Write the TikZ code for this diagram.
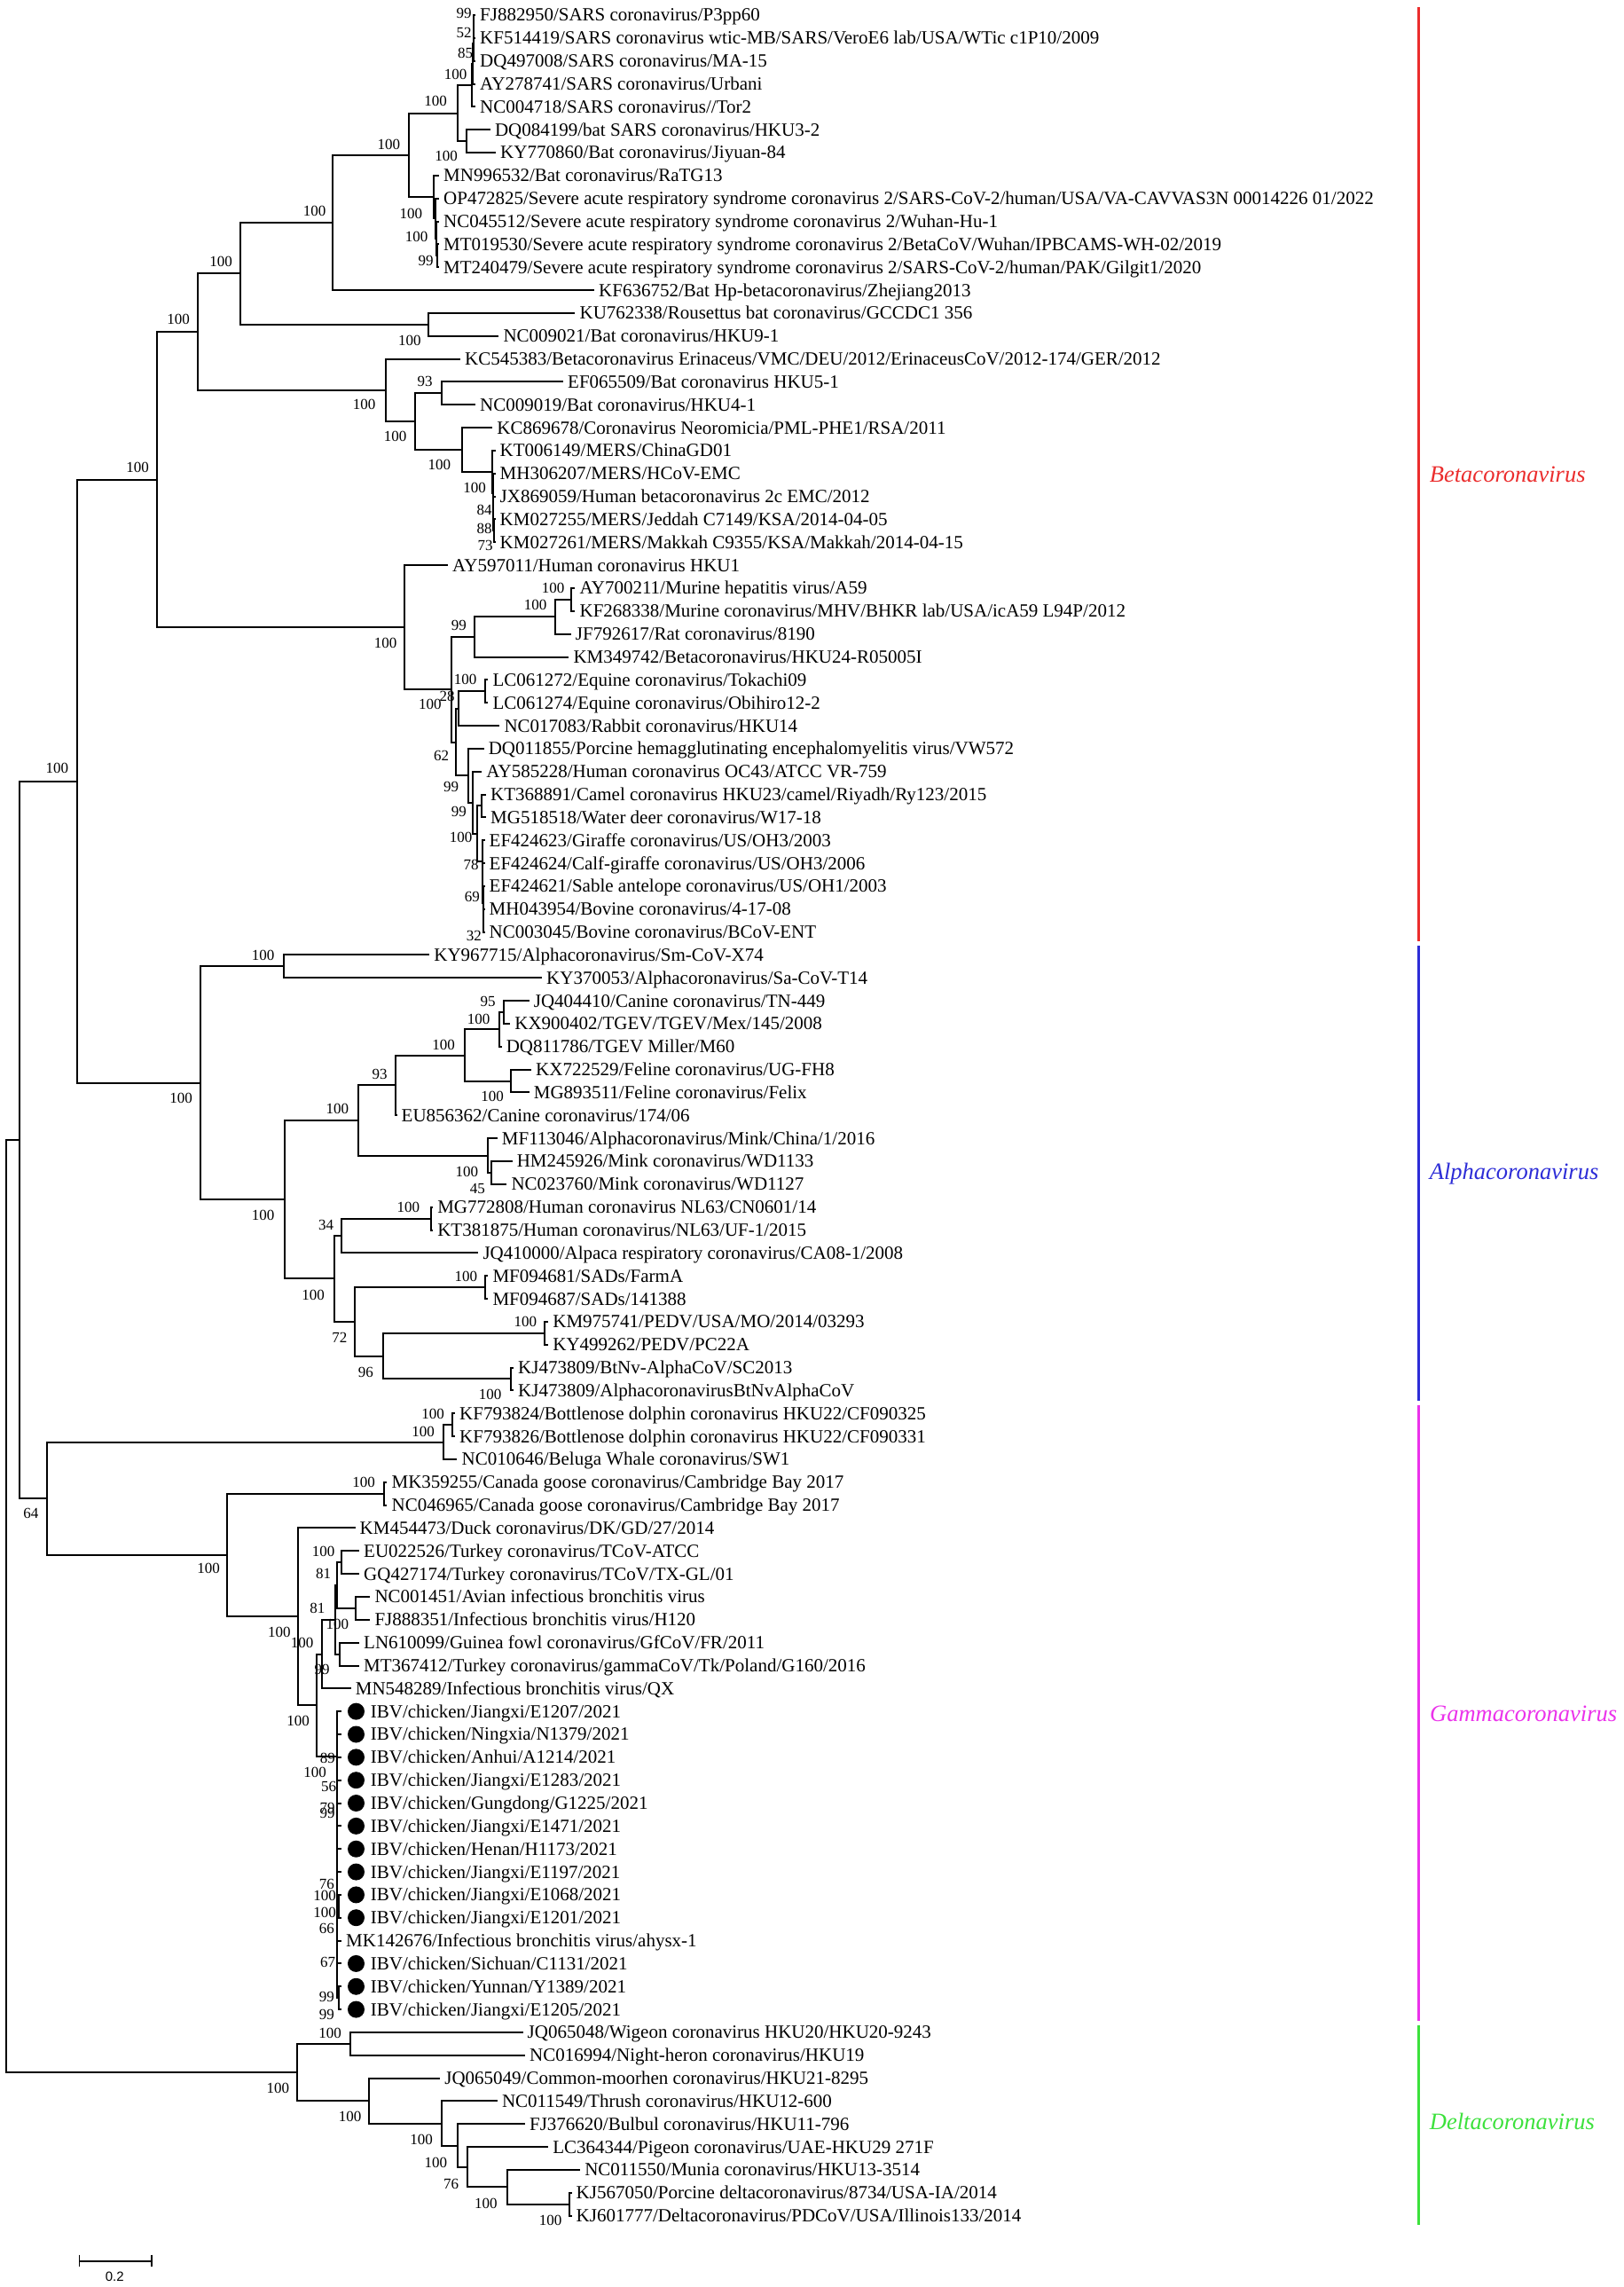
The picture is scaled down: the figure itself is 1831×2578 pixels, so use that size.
\documentclass[tikz,border=0pt]{standalone}
\usepackage{fontspec}
\setmainfont{Liberation Serif}
\newfontfamily\sansf{Liberation Sans}
\usetikzlibrary{calc}
\definecolor{betac}{RGB}{235,45,45}
\definecolor{alphac}{RGB}{45,45,215}
\definecolor{gammac}{RGB}{235,50,235}
\definecolor{deltac}{RGB}{60,225,60}
\newcounter{bsc}
\newcommand\bs[3]{\stepcounter{bsc}\node[boot] (bs\arabic{bsc}) at (#1,#2) {#3};}
\newcommand\lf[3]{%
  \pgfmathsetmacro\leafy{17+(#1-1)*25.84}%
  \coordinate (l#1) at (#2,\leafy);
  \node[lab] (t#1) at (l#1) {#3};}
\newcommand\ibv[2]{%
  \pgfmathsetmacro\leafy{17+(#1-1)*25.84}%
  \coordinate (l#1) at (384,\leafy);
  \node[dotm] (d#1) at (401.5,\leafy) {};
  \node[lab, inner xsep=0pt] (t#1) at (417.7,\leafy) {#2};}
\newcommand\nd[4]{%
  \path let \p1=(#3),\p2=(#4) in coordinate (#1) at (#2pt,{0.5*\y1+0.5*\y2});
  \draw[br] (#1) |- (#3);
  \draw[br] (#1) |- (#4);}
\begin{document}
\begin{tikzpicture}[x=1pt,y=-1pt,
  br/.style={line width=2pt, line cap=rect, black},
  lab/.style={anchor=west, inner xsep=6pt, inner ysep=0pt, font=\fontsize{21}{24}\selectfont, text height=13.9pt, text depth=0pt},
  boot/.style={inner sep=0pt, font=\fontsize{17}{19}\selectfont, text height=11.4pt, text depth=0pt},
  dotm/.style={circle, fill=black, minimum size=19pt, inner sep=0pt},
  cbar/.style={line width=2.5pt},
  clade/.style={anchor=west, inner sep=0pt, font=\fontsize{26.5}{30}\selectfont\itshape, text height=17.5pt, text depth=0pt}]
\useasboundingbox[fill=white] (0,0) rectangle (1831,2578);
% ---------------- leaves
\lf{1}{535}{FJ882950/SARS coronavirus/P3pp60}
\lf{2}{535}{KF514419/SARS coronavirus wtic-MB/SARS/VeroE6 lab/USA/WTic c1P10/2009}
\lf{3}{535}{DQ497008/SARS coronavirus/MA-15}
\lf{4}{535}{AY278741/SARS coronavirus/Urbani}
\lf{5}{535}{NC004718/SARS coronavirus//Tor2}
\lf{6}{551.8}{DQ084199/bat SARS coronavirus/HKU3-2}
\lf{7}{558}{KY770860/Bat coronavirus/Jiyuan-84}
\lf{8}{494}{MN996532/Bat coronavirus/RaTG13}
\lf{9}{494}{OP472825/Severe acute respiratory syndrome coronavirus 2/SARS-CoV-2/human/USA/VA-CAVVAS3N 00014226 01/2022}
\lf{10}{494}{NC045512/Severe acute respiratory syndrome coronavirus 2/Wuhan-Hu-1}
\lf{11}{494}{MT019530/Severe acute respiratory syndrome coronavirus 2/BetaCoV/Wuhan/IPBCAMS-WH-02/2019}
\lf{12}{494}{MT240479/Severe acute respiratory syndrome coronavirus 2/SARS-CoV-2/human/PAK/Gilgit1/2020}
\lf{13}{669}{KF636752/Bat Hp-betacoronavirus/Zhejiang2013}
\lf{14}{647.4}{KU762338/Rousettus bat coronavirus/GCCDC1 356}
\lf{15}{561.3}{NC009021/Bat coronavirus/HKU9-1}
\lf{16}{518}{KC545383/Betacoronavirus Erinaceus/VMC/DEU/2012/ErinaceusCoV/2012-174/GER/2012}
\lf{17}{634}{EF065509/Bat coronavirus HKU5-1}
\lf{18}{535}{NC009019/Bat coronavirus/HKU4-1}
\lf{19}{554.2}{KC869678/Coronavirus Neoromicia/PML-PHE1/RSA/2011}
\lf{20}{557.5}{KT006149/MERS/ChinaGD01}
\lf{21}{557.5}{MH306207/MERS/HCoV-EMC}
\lf{22}{557.5}{JX869059/Human betacoronavirus 2c EMC/2012}
\lf{23}{557.5}{KM027255/MERS/Jeddah C7149/KSA/2014-04-05}
\lf{24}{557.5}{KM027261/MERS/Makkah C9355/KSA/Makkah/2014-04-15}
\lf{25}{504}{AY597011/Human coronavirus HKU1}
\lf{26}{647.4}{AY700211/Murine hepatitis virus/A59}
\lf{27}{647.4}{KF268338/Murine coronavirus/MHV/BHKR lab/USA/icA59 L94P/2012}
\lf{28}{642.7}{JF792617/Rat coronavirus/8190}
\lf{29}{640.3}{KM349742/Betacoronavirus/HKU24-R05005I}
\lf{30}{549.4}{LC061272/Equine coronavirus/Tokachi09}
\lf{31}{549.4}{LC061274/Equine coronavirus/Obihiro12-2}
\lf{32}{562.3}{NC017083/Rabbit coronavirus/HKU14}
\lf{33}{544.6}{DQ011855/Porcine hemagglutinating encephalomyelitis virus/VW572}
\lf{34}{542.2}{AY585228/Human coronavirus OC43/ATCC VR-759}
\lf{35}{547}{KT368891/Camel coronavirus HKU23/camel/Riyadh/Ry123/2015}
\lf{36}{547}{MG518518/Water deer coronavirus/W17-18}
\lf{37}{545.5}{EF424623/Giraffe coronavirus/US/OH3/2003}
\lf{38}{545.5}{EF424624/Calf-giraffe coronavirus/US/OH3/2006}
\lf{39}{545.5}{EF424621/Sable antelope coronavirus/US/OH1/2003}
\lf{40}{545.5}{MH043954/Bovine coronavirus/4-17-08}
\lf{41}{545.5}{NC003045/Bovine coronavirus/BCoV-ENT}
\lf{42}{483.2}{KY967715/Alphacoronavirus/Sm-CoV-X74}
\lf{43}{610}{KY370053/Alphacoronavirus/Sa-CoV-T14}
\lf{44}{595.7}{JQ404410/Canine coronavirus/TN-449}
\lf{45}{574.2}{KX900402/TGEV/TGEV/Mex/145/2008}
\lf{46}{564.6}{DQ811786/TGEV Miller/M60}
\lf{47}{598}{KX722529/Feline coronavirus/UG-FH8}
\lf{48}{595.7}{MG893511/Feline coronavirus/Felix}
\lf{49}{446.5}{EU856362/Canine coronavirus/174/06}
\lf{50}{559.7}{MF113046/Alphacoronavirus/Mink/China/1/2016}
\lf{51}{576.6}{HM245926/Mink coronavirus/WD1133}
\lf{52}{570.3}{NC023760/Mink coronavirus/WD1127}
\lf{53}{487.1}{MG772808/Human coronavirus NL63/CN0601/14}
\lf{54}{487.1}{KT381875/Human coronavirus/NL63/UF-1/2015}
\lf{55}{538.3}{JQ410000/Alpaca respiratory coronavirus/CA08-1/2008}
\lf{56}{549.3}{MF094681/SADs/FarmA}
\lf{57}{549.3}{MF094687/SADs/141388}
\lf{58}{617.2}{KM975741/PEDV/USA/MO/2014/03293}
\lf{59}{617.2}{KY499262/PEDV/PC22A}
\lf{60}{578}{KJ473809/BtNv-AlphaCoV/SC2013}
\lf{61}{578}{KJ473809/AlphacoronavirusBtNvAlphaCoV}
\lf{62}{512}{KF793824/Bottlenose dolphin coronavirus HKU22/CF090325}
\lf{63}{512}{KF793826/Bottlenose dolphin coronavirus HKU22/CF090331}
\lf{64}{514.4}{NC010646/Beluga Whale coronavirus/SW1}
\lf{65}{435.4}{MK359255/Canada goose coronavirus/Cambridge Bay 2017}
\lf{66}{435.4}{NC046965/Canada goose coronavirus/Cambridge Bay 2017}
\lf{67}{399.5}{KM454473/Duck coronavirus/DK/GD/27/2014}
\lf{68}{404}{EU022526/Turkey coronavirus/TCoV-ATCC}
\lf{69}{404}{GQ427174/Turkey coronavirus/TCoV/TX-GL/01}
\lf{70}{416.3}{NC001451/Avian infectious bronchitis virus}
\lf{71}{416.3}{FJ888351/Infectious bronchitis virus/H120}
\lf{72}{404}{LN610099/Guinea fowl coronavirus/GfCoV/FR/2011}
\lf{73}{404}{MT367412/Turkey coronavirus/gammaCoV/Tk/Poland/G160/2016}
\lf{74}{394.7}{MN548289/Infectious bronchitis virus/QX}
\ibv{75}{IBV/chicken/Jiangxi/E1207/2021}
\ibv{76}{IBV/chicken/Ningxia/N1379/2021}
\ibv{77}{IBV/chicken/Anhui/A1214/2021}
\ibv{78}{IBV/chicken/Jiangxi/E1283/2021}
\ibv{79}{IBV/chicken/Gungdong/G1225/2021}
\ibv{80}{IBV/chicken/Jiangxi/E1471/2021}
\ibv{81}{IBV/chicken/Henan/H1173/2021}
\ibv{82}{IBV/chicken/Jiangxi/E1197/2021}
\ibv{83}{IBV/chicken/Jiangxi/E1068/2021}
\ibv{84}{IBV/chicken/Jiangxi/E1201/2021}
\lf{85}{384}{MK142676/Infectious bronchitis virus/ahysx-1}
\ibv{86}{IBV/chicken/Sichuan/C1131/2021}
\ibv{87}{IBV/chicken/Yunnan/Y1389/2021}
\ibv{88}{IBV/chicken/Jiangxi/E1205/2021}
\lf{89}{588.5}{JQ065048/Wigeon coronavirus HKU20/HKU20-9243}
\lf{90}{590.9}{NC016994/Night-heron coronavirus/HKU19}
\lf{91}{495.2}{JQ065049/Common-moorhen coronavirus/HKU21-8295}
\lf{92}{559.8}{NC011549/Thrush coronavirus/HKU12-600}
\lf{93}{590.9}{FJ376620/Bulbul coronavirus/HKU11-796}
\lf{94}{617.2}{LC364344/Pigeon coronavirus/UAE-HKU29 271F}
\lf{95}{653.1}{NC011550/Munia coronavirus/HKU13-3514}
\lf{96}{643.5}{KJ567050/Porcine deltacoronavirus/8734/USA-IA/2014}
\lf{97}{643.5}{KJ601777/Deltacoronavirus/PDCoV/USA/Illinois133/2014}
% ---------------- Betacoronavirus
\nd{S1}{534.2}{l1}{l2}
\nd{S2}{533.6}{S1}{l3}
\nd{S3}{532.8}{S2}{l4}
\nd{S4}{531.8}{S3}{l5}
\nd{A2}{525.5}{l6}{l7}
\nd{A}{515.9}{S4}{A2}
\nd{C3}{492.8}{l11}{l12}
\nd{C2}{492.0}{l10}{C3}
\nd{C1}{491.0}{l9}{C2}
\nd{C}{488.6}{l8}{C1}
\nd{B}{460.9}{A}{C}
\nd{D}{374.8}{B}{l13}
\nd{F}{483.4}{l14}{l15}
\nd{E}{270.5}{D}{F}
\nd{J}{498.2}{l17}{l18}
\nd{L3}{556.5}{l23}{l24}
\nd{L2}{556.0}{l22}{L3}
\nd{L1}{555.5}{l21}{L2}
\nd{L}{555.0}{l20}{L1}
\nd{K}{520.7}{l19}{L}
\nd{I}{468.1}{J}{K}
\nd{H}{434.6}{l16}{I}
\nd{G}{222.7}{E}{H}
\nd{S}{644.1}{l26}{l27}
\nd{R}{625.9}{S}{l28}
\nd{P}{535.0}{R}{l29}
\nd{T}{547.0}{l30}{l31}
\nd{U}{517.3}{T}{l32}
\nd{Z1}{543.2}{l35}{l36}
\nd{Z2c}{544.9}{l40}{l41}
\nd{Z2b}{544.6}{l39}{Z2c}
\nd{Z2a}{544.3}{l38}{Z2b}
\nd{Z2}{544.0}{l37}{Z2a}
\nd{Y}{538.0}{Z1}{Z2}
\nd{X}{532.6}{l34}{Y}
\nd{W}{527.9}{l33}{X}
\nd{Q}{513.5}{U}{W}
\nd{O}{508.7}{P}{Q}
\nd{N}{456.1}{l25}{O}
\nd{M}{176.5}{G}{N}
% ---------------- Alphacoronavirus
\nd{AL1}{319.6}{l42}{l43}
\nd{AL9}{568.4}{l44}{l45}
\nd{AL7}{563.2}{AL9}{l46}
\nd{AL8}{575.6}{l47}{l48}
\nd{AL6}{523.9}{AL7}{AL8}
\nd{AL4}{445.9}{AL6}{l49}
\nd{AL10}{554.0}{l51}{l52}
\nd{AL5}{550.2}{l50}{AL10}
\nd{AL3}{404.3}{AL4}{AL5}
\nd{AL14}{485.6}{l53}{l54}
\nd{AL12}{385.2}{AL14}{l55}
\nd{AL15}{546.9}{l56}{l57}
\nd{AL17}{613.9}{l58}{l59}
\nd{AL18}{575.6}{l60}{l61}
\nd{AL16}{431.6}{AL17}{AL18}
\nd{AL13}{399.5}{AL15}{AL16}
\nd{AL11}{376.6}{AL12}{AL13}
\nd{AL2}{320.6}{AL3}{AL11}
\nd{AL}{225.5}{AL1}{AL2}
\nd{BA}{86.6}{M}{AL}
% ---------------- Gammacoronavirus
\nd{G1a}{509.6}{l62}{l63}
\nd{GA1}{500.0}{G1a}{l64}
\nd{GA4}{433.0}{l65}{l66}
\nd{GA8}{385.1}{l68}{l69}
\nd{GA9}{400.8}{l70}{l71}
\nd{GA12}{379.6}{GA8}{GA9}
\nd{GA10}{382.8}{l72}{l73}
\nd{GA11}{378.0}{GA12}{GA10}
\nd{GA6}{363.0}{GA11}{l74}
\nd{KB}{382.2}{l83}{l84}
\nd{KE}{381.8}{l87}{l88}
\coordinate (GA7) at (380,1980);
\foreach \c in {l75,l76,l77,l78,l79,l80,l81,l82,KB,l85,l86,KE} {\draw[br] (GA7) |- (\c);}
\nd{GA5}{357.0}{GA6}{GA7}
\nd{GA3}{336.4}{l67}{GA5}
\nd{GA2}{256.0}{GA4}{GA3}
\nd{GA}{53.3}{GA1}{GA2}
\nd{ROOT2}{21.7}{BA}{GA}
% ---------------- Deltacoronavirus
\nd{DL7}{642.1}{l96}{l97}
\nd{DL6}{571.8}{l95}{DL7}
\nd{DL5}{527.3}{l94}{DL6}
\nd{DL4}{515.8}{l93}{DL5}
\nd{DL3}{497.6}{l92}{DL4}
\nd{DL2}{416.3}{l91}{DL3}
\nd{DL1}{394.7}{l89}{l90}
\nd{DL}{334.9}{DL1}{DL2}
\nd{ROOT}{6.7}{ROOT2}{DL}
% ---------------- bootstrap values
\bs{523}{15}{99}
\bs{523}{36.7}{52}
\bs{524.5}{60}{85}
\bs{513.5}{83.3}{100}
\bs{491}{113.3}{100}
\bs{438.4}{162.3}{100}
\bs{503}{176}{100}
\bs{354.7}{237.7}{100}
\bs{463.3}{240.7}{100}
\bs{469.5}{266.7}{100}
\bs{480}{293.3}{99}
\bs{249}{294.3}{100}
\bs{201.2}{360}{100}
\bs{461.9}{383.3}{100}
\bs{479.1}{430}{93}
\bs{410.7}{456}{100}
\bs{445.6}{491.7}{100}
\bs{495.4}{524}{100}
\bs{535}{549.3}{100}
\bs{546}{575}{84}
\bs{546}{596}{88}
\bs{547}{615}{73}
\bs{155}{526.3}{100}
\bs{623.6}{662.7}{100}
\bs{603.5}{681.7}{100}
\bs{517.4}{705}{99}
\bs{434.6}{725}{100}
\bs{524.5}{766}{100}
\bs{504}{785}{28}
\bs{484.8}{793.3}{100}
\bs{497.7}{851.7}{62}
\bs{508.7}{886.7}{99}
\bs{517.4}{915}{99}
\bs{519.7}{943.3}{100}
\bs{531}{975}{78}
\bs{532.4}{1010.7}{69}
\bs{534.3}{1055}{32}
\bs{64.3}{865.9}{100}
\bs{296.7}{1076.7}{100}
\bs{204}{1237.5}{100}
\bs{380.4}{1250}{100}
\bs{428.2}{1210.7}{93}
\bs{500}{1177.7}{100}
\bs{539.7}{1148.3}{100}
\bs{550.2}{1128.3}{95}
\bs{555}{1236}{100}
\bs{526.3}{1320.7}{100}
\bs{538.3}{1340}{45}
\bs{296.7}{1369.3}{100}
\bs{353.1}{1460}{100}
\bs{367.5}{1380.7}{34}
\bs{460.3}{1360.7}{100}
\bs{382.8}{1507.3}{72}
\bs{525.4}{1438.3}{100}
\bs{412.4}{1546.7}{96}
\bs{592.3}{1490}{100}
\bs{552.6}{1571.7}{100}
\bs{488}{1594}{100}
\bs{477}{1613.3}{100}
\bs{410}{1670.7}{100}
\bs{35}{1705.8}{64}
\bs{235}{1768}{100}
\bs{364.6}{1748.3}{100}
\bs{364.6}{1773.3}{81}
\bs{357.9}{1812.7}{81}
\bs{380.4}{1830.7}{100}
\bs{314.8}{1839.3}{100}
\bs{340.7}{1851.7}{100}
\bs{363}{1881.7}{99}
\bs{336}{1939.6}{100}
\bs{369.3}{1981.7}{89}
\bs{355}{1997.8}{100}
\bs{370.5}{2013.3}{56}
\bs{369}{2038}{79}
\bs{369}{2044}{99}
\bs{368.4}{2124}{76}
\bs{366}{2136.7}{100}
\bs{366}{2156}{100}
\bs{368.4}{2173.3}{66}
\bs{369.5}{2212}{67}
\bs{368.4}{2250.7}{99}
\bs{368.4}{2270.7}{99}
\bs{372.2}{2291.7}{100}
\bs{313.4}{2353.3}{100}
\bs{394.7}{2385.7}{100}
\bs{475.1}{2411.7}{100}
\bs{491.4}{2437.3}{100}
\bs{508.6}{2461.7}{76}
\bs{547.8}{2484}{100}
\bs{620.6}{2502.7}{100}
% ---------------- clade bars
\draw[cbar, betac] (1599.3,8) -- (1599.3,1061);
\draw[cbar, alphac] (1599.3,1066) -- (1599.3,1579);
\draw[cbar, gammac] (1599.3,1584) -- (1599.3,2278);
\draw[cbar, deltac] (1599.3,2283) -- (1599.3,2508);
\node[clade, text=betac] (cbeta) at (1611.7,534.5) {Betacoronavirus};
\node[clade, text=alphac] (calpha) at (1611.7,1320.7) {Alphacoronavirus};
\node[clade, text=gammac] (cgamma) at (1612,1932) {Gammacoronavirus};
\node[clade, text=deltac] (cdelta) at (1611.7,2392) {Deltacoronavirus};
% ---------------- scale bar
\coordinate (sb1) at (89.5,2549);
\coordinate (sb2) at (170.8,2549);
\draw[line width=1.6pt] (sb1) -- (sb2);
\draw[line width=1.6pt] ($(sb1)+(0,-7.3)$) -- ($(sb1)+(0,6)$);
\draw[line width=1.6pt] ($(sb2)+(0,-7.3)$) -- ($(sb2)+(0,6)$);
\node[inner sep=0pt, font=\sansf\fontsize{15}{17}\selectfont] (sblab) at (129.2,2566.7) {0.2};
\end{tikzpicture}
\end{document}
